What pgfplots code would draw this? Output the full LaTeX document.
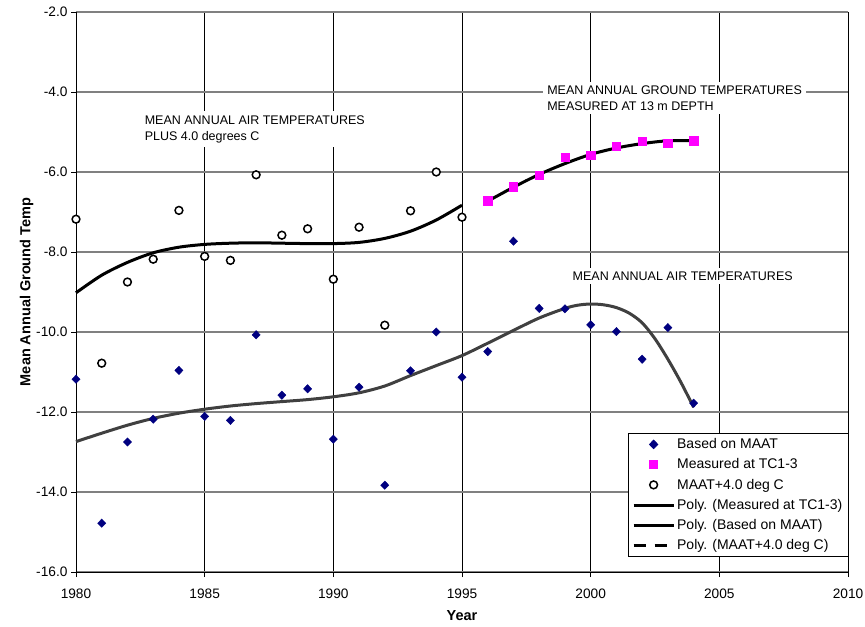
\documentclass[border=0pt]{standalone}
\usepackage{fontspec}
\setmainfont{Liberation Sans}
\usepackage{pgfplots}
\pgfplotsset{compat=1.18}
\definecolor{maatblue}{HTML}{000080}
\definecolor{tcmag}{HTML}{FF00FF}
\definecolor{trendgrey}{HTML}{404040}
\begin{document}
\begin{tikzpicture}
\begin{axis}[
  scale only axis, width=772pt, height=560pt,
  xmin=1980, xmax=2010, ymin=-16, ymax=-2,
  clip=false,
  axis x line*=bottom, axis y line*=left,
  axis line style={black, line width=0.9pt, -},
  xtick={1980,1985,...,2010},
  xticklabels={1980,1985,1990,1995,2000,2005,2010},
  ytick={-16,-14,...,-2},
  yticklabels={-16.0,-14.0,-12.0,-10.0,-8.0,-6.0,-4.0,-2.0},
  tick align=outside, major tick length=5pt,
  tick style={black, line width=0.8pt},
  grid=major,
  x grid style={black, line width=0.8pt},
  y grid style={gray, line width=1.3pt},
  ticklabel style={font=\fontsize{13.7}{16}\selectfont},
  xticklabel style={yshift=-8pt},
  xlabel={\textbf{Year}},
  ylabel={\textbf{Mean Annual Ground Temp}},
  label style={font=\fontsize{14.5}{17}\selectfont},
  xlabel style={yshift=-5pt},
  ylabel style={yshift=-4pt},
  legend style={at={(1.001,0.248)}, anchor=north east, draw=black,
    line width=0.9pt, font=\fontsize{14}{16}\selectfont, row sep=4.6pt,
    inner xsep=4pt, inner ysep=3pt, cells={anchor=west}},
  legend image code/.code={
    \draw[mark repeat=2,mark phase=2,#1]
      plot coordinates {(0pt,0pt)(20pt,0pt)(40pt,0pt)};},
]

% measured data points
\addplot[only marks, mark=diamond*, mark size=4.2pt, color=maatblue,
  every mark/.append style={xscale=1.3}] coordinates {
  (1980,-11.18)(1981,-14.78)(1982,-12.75)(1983,-12.18)(1984,-10.96)
  (1985,-12.11)(1986,-12.21)(1987,-10.07)(1988,-11.58)(1989,-11.42)
  (1990,-12.68)(1991,-11.38)(1992,-13.83)(1993,-10.97)(1994,-10.00)
  (1995,-11.13)(1996,-10.49)(1997,-7.73)(1998,-9.41)(1999,-9.42)
  (2000,-9.82)(2001,-9.99)(2002,-10.68)(2003,-9.89)(2004,-11.78)
};
\addplot[only marks, mark=square*, mark size=4.2pt, color=tcmag] coordinates {
  (1996,-6.72)(1997,-6.37)(1998,-6.08)(1999,-5.63)(2000,-5.58)
  (2001,-5.35)(2002,-5.23)(2003,-5.28)(2004,-5.22)
};
\addplot[only marks, mark=*, mark size=3.9pt,
  mark options={draw=black, fill=white, line width=1.5pt}] coordinates {
  (1980,-7.18)(1981,-10.78)(1982,-8.75)(1983,-8.18)(1984,-6.96)
  (1985,-8.11)(1986,-8.21)(1987,-6.07)(1988,-7.58)(1989,-7.42)
  (1990,-8.68)(1991,-7.38)(1992,-9.83)(1993,-6.97)(1994,-6.00)
  (1995,-7.13)
};

% trend lines
\addplot[black, line width=3pt, smooth, no marks] coordinates {
  (1996,-6.73)(1997,-6.38)(1998,-6.06)(1999,-5.79)(2000,-5.56)
  (2001,-5.40)(2002,-5.29)(2003,-5.22)(2004,-5.22)
};
\addplot[trendgrey, line width=3pt, smooth, no marks,
  legend image post style={black}] coordinates {
  (1980,-12.74)(1981,-12.53)(1982,-12.33)(1983,-12.16)(1984,-12.03)
  (1985,-11.93)(1986,-11.85)(1987,-11.79)(1988,-11.74)(1989,-11.69)
  (1990,-11.62)(1991,-11.52)(1992,-11.35)(1993,-11.09)(1994,-10.84)
  (1995,-10.59)(1996,-10.28)(1997,-9.96)(1998,-9.65)(1999,-9.41)
  (1999.5,-9.33)(2000,-9.30)(2000.5,-9.32)(2001,-9.39)(2001.5,-9.53)
  (2002,-9.77)(2002.5,-10.17)(2003,-10.68)(2003.5,-11.25)(2004,-11.88)
};
\addplot[black, line width=3pt, smooth, no marks,
  legend image code/.code={
    \draw[black, line width=3pt, dash pattern=on 12pt off 9pt]
      (0pt,0pt) -- (40pt,0pt);}]
  coordinates {
  (1980,-9.02)(1981,-8.58)(1982,-8.26)(1983,-8.02)(1984,-7.88)
  (1985,-7.81)(1986,-7.78)(1987,-7.77)(1988,-7.78)(1989,-7.79)
  (1990,-7.79)(1991,-7.76)(1992,-7.66)(1993,-7.48)(1994,-7.20)
  (1995,-6.83)
};
\legend{Based on MAAT, Measured at TC1-3, MAAT+4.0 deg C,
  Poly. (Measured at TC1-3), Poly. (Based on MAAT), Poly. (MAAT+4.0 deg C)}

\node[fill=white, anchor=west, align=left, inner xsep=4pt, inner ysep=4pt,
  font=\fontsize{12.5}{16}\selectfont] at (axis cs:1982.51,-4.925)
  {MEAN ANNUAL AIR TEMPERATURES\\PLUS 4.0 degrees C};
\node[fill=white, anchor=west, align=left, inner xsep=4pt, inner ysep=4pt,
  font=\fontsize{12.5}{16}\selectfont] at (axis cs:1998.15,-4.15)
  {MEAN ANNUAL GROUND TEMPERATURES\\MEASURED AT 13 m DEPTH};
\node[fill=white, anchor=west, align=left, inner xsep=4pt, inner ysep=4pt,
  font=\fontsize{12.5}{16}\selectfont] at (axis cs:1999.14,-8.6)
  {MEAN ANNUAL AIR TEMPERATURES};
\end{axis}
\pgfresetboundingbox
\path[use as bounding box] ([xshift=-76pt,yshift=-54pt]current axis.south west)
  rectangle ([xshift=17pt,yshift=12pt]current axis.north east);
\end{tikzpicture}
\end{document}
